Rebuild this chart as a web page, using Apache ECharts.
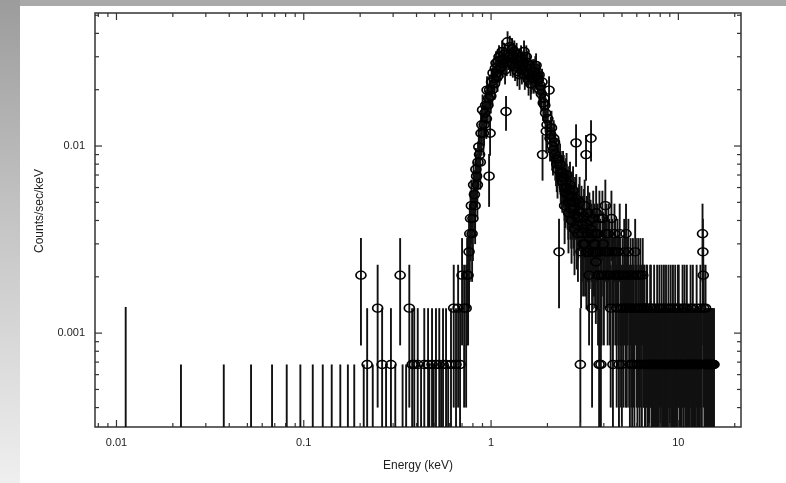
<!DOCTYPE html>
<html><head><meta charset="utf-8">
<script src="https://cdn.jsdelivr.net/npm/echarts@6/dist/echarts.min.js"></script>
<style>
html,body{margin:0;padding:0;width:786px;height:483px;overflow:hidden;background:#fff;}
#topband{position:absolute;left:0;top:0;width:786px;height:6px;background:#a9a9a9;}
#leftband{position:absolute;left:0;top:0;width:20px;height:483px;background:linear-gradient(to bottom,#9c9c9c 0%,#c4c4c4 45%,#efefef 100%);}
#chart{position:absolute;left:0;top:0;width:786px;height:483px;}
</style></head><body>
<div id="topband"></div><div id="leftband"></div><div id="chart"></div>
<script>
// ---- axis ranges ----
const xRange = [0.00768, 21.6];
const yRange = [0.000315, 0.0514];

// ---- tick values ----
const xMajorTicks = [0.01, 0.1, 1, 10];
const xMinorTicks = [0.008, 0.009, 0.02, 0.03, 0.04, 0.05, 0.06, 0.07, 0.08, 0.09,
  0.2, 0.3, 0.4, 0.5, 0.6, 0.7, 0.8, 0.9, 2, 3, 4, 5, 6, 7, 8, 9, 20];
const yMajorTicks = [0.001, 0.01];
const yMinorTicks = [0.0004, 0.0005, 0.0006, 0.0007, 0.0008, 0.0009,
  0.002, 0.003, 0.004, 0.005, 0.006, 0.007, 0.008, 0.009, 0.02, 0.03, 0.04, 0.05];

// ---- zero-count bins: upper-limit bars only ----
const upperLimitEnergy = [0.0112, 0.0221, 0.0374, 0.0523, 0.0677, 0.0811, 0.0959, 0.1117, 0.1263, 0.141,
  0.1567, 0.172, 0.186, 0.209, 0.2335, 0.275, 0.308, 0.337, 0.352, 0.423, 0.468, 0.494, 0.541, 0.590];
const upperLimitRate = [0.00138, 0.00068, 0.00068, 0.00068, 0.00068, 0.00068, 0.00068, 0.00068, 0.00068, 0.00068,
  0.00068, 0.00068, 0.00068, 0.00068, 0.00068, 0.00068, 0.00068, 0.00068, 0.00068, 0.00068, 0.00068, 0.00068, 0.00068, 0.00068];

// ---- soft band (0.2 - 0.75 keV) ----
const softEnergy = [0.202, 0.218, 0.248, 0.262, 0.292, 0.327, 0.366, 0.379, 0.389, 0.406,
  0.440, 0.461, 0.484, 0.508, 0.529, 0.554, 0.575, 0.611, 0.632, 0.650,
  0.667, 0.683, 0.700, 0.718, 0.736];
const softRate = [0.00204, 0.00068, 0.00136, 0.00068, 0.00068, 0.00204, 0.00136, 0.00068, 0.00068, 0.00068,
  0.00068, 0.00068, 0.00068, 0.00068, 0.00068, 0.00068, 0.00068, 0.00068, 0.00136, 0.00068,
  0.00136, 0.00068, 0.00204, 0.00136, 0.00136];
const softErr = [0.00118, 0.00068, 0.00096, 0.00068, 0.00068, 0.00118, 0.00096, 0.00068, 0.00068, 0.00068,
  0.00068, 0.00068, 0.00068, 0.00068, 0.00068, 0.00068, 0.00068, 0.00068, 0.00096, 0.00068,
  0.00096, 0.00068, 0.00118, 0.00096, 0.00096];

// ---- peak (0.75 - 3.8 keV) ----
const peakEnergy = [0.745, 0.763, 0.777, 0.792, 0.807, 0.822, 0.837, 0.852, 0.868, 0.884,
  0.901, 0.918, 0.935, 0.952, 0.970, 0.976, 0.988, 1.006, 1.025, 1.044,
  1.063, 1.083, 1.103, 1.124, 1.145, 1.166, 1.188, 1.202, 1.225, 1.248,
  1.271, 1.295, 1.319, 1.344, 1.369, 1.394, 1.420, 1.446, 1.473, 1.500,
  1.528, 1.557, 1.586, 1.615, 1.645, 1.676, 1.707, 1.739, 1.771, 1.804,
  1.837, 1.871, 1.883, 1.918, 1.954, 1.990, 2.040, 2.064, 2.102, 2.141,
  2.181, 2.223, 2.264, 2.306, 2.335, 2.378, 2.423, 2.468, 2.514, 2.561,
  2.608, 2.657, 2.706, 2.756, 2.808, 2.843, 2.896, 2.950, 2.997, 3.023,
  3.079, 3.136, 3.214, 3.274, 3.336, 3.398, 3.418, 3.462, 3.527, 3.593,
  3.660, 3.728, 3.775];
const peakRate = [0.00204, 0.00272, 0.0041, 0.0034, 0.0062, 0.0048, 0.0069, 0.0082, 0.0090, 0.0117,
  0.0156, 0.0130, 0.0165, 0.0199, 0.0180, 0.0069, 0.0117, 0.0220, 0.0246, 0.0215,
  0.0278, 0.0235, 0.0300, 0.0265, 0.0320, 0.0290, 0.0255, 0.0153, 0.0361, 0.0310,
  0.0280, 0.0330, 0.0300, 0.0265, 0.0310, 0.0285, 0.0240, 0.0300, 0.0270, 0.0320,
  0.0250, 0.0280, 0.0225, 0.0260, 0.0230, 0.0250, 0.0250, 0.0270, 0.0230, 0.0240,
  0.0210, 0.0220, 0.0090, 0.0180, 0.0150, 0.0130, 0.0199, 0.0110, 0.0125, 0.0095,
  0.0105, 0.0085, 0.0075, 0.00272, 0.0080, 0.0068, 0.0072, 0.0060, 0.0065, 0.0055,
  0.0058, 0.0050, 0.0054, 0.0046, 0.0050, 0.0104, 0.0041, 0.0045, 0.00068, 0.00272,
  0.0038, 0.0042, 0.0090, 0.0034, 0.00204, 0.0036, 0.0110, 0.00136, 0.0030, 0.00272,
  0.0034, 0.00204, 0.00068];
const peakErr = [0.00118, 0.00136, 0.00167, 0.00152, 0.00205, 0.00181, 0.00217, 0.00236, 0.00247, 0.00282,
  0.00326, 0.00297, 0.00335, 0.00368, 0.0035, 0.00217, 0.00282, 0.00387, 0.00409, 0.00382,
  0.00435, 0.0040, 0.00452, 0.00425, 0.00466, 0.00444, 0.00416, 0.00323, 0.00495, 0.00459,
  0.00436, 0.00474, 0.00452, 0.00425, 0.00459, 0.0044, 0.00404, 0.00452, 0.00428, 0.00466,
  0.00412, 0.00436, 0.00391, 0.0042, 0.00395, 0.00412, 0.00412, 0.00428, 0.00395, 0.00404,
  0.00378, 0.00387, 0.00247, 0.0035, 0.00319, 0.00297, 0.00368, 0.00273, 0.00292, 0.00254,
  0.00267, 0.0024, 0.00226, 0.00136, 0.00233, 0.00215, 0.00221, 0.00202, 0.0021, 0.00193,
  0.00199, 0.00184, 0.00192, 0.00177, 0.00184, 0.00266, 0.00167, 0.00175, 0.00068, 0.00136,
  0.00161, 0.00169, 0.00247, 0.00152, 0.00118, 0.00156, 0.00273, 0.00096, 0.00143, 0.00136,
  0.00152, 0.00118, 0.00068];

// ---- peak, interleaved bins [energy, rate, error] ----
const peakExtra = [
  [0.754, 0.00204, 0.00118], [0.770, 0.0034, 0.00152], [0.785, 0.0048, 0.00181], [0.800, 0.0041, 0.00167],
  [0.815, 0.0055, 0.00193], [0.830, 0.0075, 0.00226], [0.845, 0.0062, 0.00205], [0.860, 0.0099, 0.00259],
  [0.876, 0.0082, 0.00236], [0.893, 0.0130, 0.00297], [0.910, 0.0117, 0.00282], [0.927, 0.0150, 0.00319],
  [0.944, 0.0140, 0.00309], [0.961, 0.0165, 0.00335], [0.982, 0.0199, 0.00368], [0.997, 0.0185, 0.00355],
  [1.016, 0.0200, 0.00369], [1.035, 0.0230, 0.00395], [1.054, 0.0260, 0.0042], [1.073, 0.0246, 0.00409],
  [1.093, 0.0285, 0.0044], [1.113, 0.0260, 0.0042], [1.135, 0.0290, 0.00444], [1.156, 0.0275, 0.00432],
  [1.177, 0.0310, 0.00459], [1.213, 0.0280, 0.00436], [1.236, 0.0300, 0.00452], [1.260, 0.0340, 0.00481],
  [1.283, 0.0295, 0.00448], [1.307, 0.0275, 0.00432], [1.331, 0.0320, 0.00466], [1.356, 0.0290, 0.00444],
  [1.382, 0.0250, 0.00412], [1.407, 0.0275, 0.00432], [1.433, 0.0290, 0.00444], [1.460, 0.0255, 0.00416],
  [1.486, 0.0280, 0.00436], [1.514, 0.0240, 0.00404], [1.542, 0.0300, 0.00452], [1.571, 0.0245, 0.00408],
  [1.600, 0.0270, 0.00428], [1.630, 0.0215, 0.00382], [1.660, 0.0240, 0.00404], [1.691, 0.0230, 0.00395],
  [1.723, 0.0260, 0.0042], [1.755, 0.0240, 0.00404], [1.787, 0.0225, 0.00391], [1.820, 0.0200, 0.00369],
  [1.854, 0.0190, 0.0036], [1.900, 0.0170, 0.0034], [1.936, 0.0165, 0.00335], [1.972, 0.0120, 0.00286],
  [2.010, 0.0140, 0.00309], [2.083, 0.0115, 0.0028], [2.121, 0.0100, 0.00261], [2.161, 0.0110, 0.00273],
  [2.202, 0.0090, 0.00247], [2.243, 0.0080, 0.00233], [2.285, 0.0085, 0.0024], [2.356, 0.0072, 0.00221],
  [2.400, 0.0065, 0.0021], [2.445, 0.0068, 0.00215], [2.491, 0.0056, 0.00195], [2.537, 0.0060, 0.00202],
  [2.584, 0.0050, 0.00184], [2.632, 0.0054, 0.00192], [2.681, 0.0046, 0.00177], [2.731, 0.0050, 0.00184],
  [2.782, 0.0043, 0.00171], [2.870, 0.0038, 0.00161], [2.923, 0.0042, 0.00169], [3.050, 0.0034, 0.00152],
  [3.107, 0.0036, 0.00156], [3.175, 0.0030, 0.00143], [3.244, 0.0038, 0.00161], [3.305, 0.0027, 0.00136],
  [3.367, 0.0032, 0.00148], [3.494, 0.0027, 0.00136], [3.560, 0.0034, 0.00152], [3.626, 0.0024, 0.00128],
  [3.694, 0.0027, 0.00136], [3.752, 0.00204, 0.00118]
];

// ---- falling edge, extra bins [energy, rate, error] ----
const descentExtra = [
  [2.47, 0.0048, 0.00181], [2.53, 0.0070, 0.00218], [2.59, 0.0044, 0.00173], [2.64, 0.0062, 0.00205],
  [2.69, 0.0040, 0.00165], [2.74, 0.0058, 0.00199], [2.79, 0.0036, 0.00156], [2.85, 0.0052, 0.00188],
  [2.91, 0.0034, 0.00152], [2.97, 0.0050, 0.00184], [3.04, 0.0044, 0.00173], [3.10, 0.0030, 0.00143],
  [3.16, 0.0048, 0.00181], [3.23, 0.0027, 0.00136], [3.29, 0.0044, 0.00173], [3.35, 0.0040, 0.00165],
  [3.44, 0.0034, 0.00152], [3.51, 0.0041, 0.00167], [3.58, 0.0030, 0.00143], [3.64, 0.0044, 0.00173],
  [3.71, 0.0034, 0.00152], [3.79, 0.0041, 0.00167]
];

// ---- hard tail (3.8 - 15.5 keV) ----
const tailEnergy = [3.822, 3.894, 3.967, 4.041, 4.110, 4.193, 4.272, 4.352, 4.433, 4.516,
  4.600, 4.686, 4.774, 4.863, 4.942, 5.046, 5.140, 5.236, 5.255, 5.360,
  5.460, 5.563, 5.667, 5.772, 5.880, 5.990, 6.102, 6.216, 6.319, 6.453,
  6.565, 6.688, 6.813, 6.940, 7.070, 7.202, 7.336, 7.425, 7.565, 7.706,
  7.850, 7.997, 8.146, 8.298, 8.453, 8.592, 8.771, 8.935, 9.101, 9.271,
  9.444, 9.621, 9.800, 9.949, 10.15, 10.34, 10.53, 10.79, 11.00, 11.20,
  11.41, 11.62, 11.84, 12.06, 12.29, 12.52, 12.75, 12.99, 13.23, 13.46,
  13.52, 13.58, 13.64, 13.90, 14.05, 14.30, 14.57, 14.84, 15.12, 15.50];
const tailRate = [0.00272, 0.00204, 0.0030, 0.00272, 0.0034, 0.00204, 0.00272, 0.00136, 0.00272, 0.00204,
  0.00272, 0.00136, 0.00204, 0.0034, 0.00136, 0.00204, 0.00272, 0.00136, 0.0034, 0.00204,
  0.00136, 0.00204, 0.00068, 0.00136, 0.00272, 0.00136, 0.00204, 0.00068, 0.00136, 0.00204,
  0.00136, 0.00068, 0.00136, 0.00068, 0.00136, 0.00068, 0.00068, 0.00136, 0.00068, 0.00136,
  0.00068, 0.00068, 0.00136, 0.00068, 0.00068, 0.00136, 0.00068, 0.00068, 0.00136, 0.00068,
  0.00068, 0.00136, 0.00068, 0.00136, 0.00068, 0.00068, 0.00136, 0.00136, 0.00068, 0.00068,
  0.00068, 0.00136, 0.00068, 0.00068, 0.00068, 0.00136, 0.00068, 0.00068, 0.00068, 0.0034,
  0.00272, 0.00204, 0.00136, 0.00068, 0.00068, 0.00068, 0.00068, 0.00068, 0.00068, 0.00068];
const tailErr = [0.00136, 0.00118, 0.00143, 0.00136, 0.00152, 0.00118, 0.00136, 0.00096, 0.00136, 0.00118,
  0.00136, 0.00096, 0.00118, 0.00152, 0.00096, 0.00118, 0.00136, 0.00096, 0.00152, 0.00118,
  0.00096, 0.00118, 0.00068, 0.00096, 0.00136, 0.00096, 0.00118, 0.00068, 0.00096, 0.00118,
  0.00096, 0.00068, 0.00096, 0.00068, 0.00096, 0.00068, 0.00068, 0.00096, 0.00068, 0.00096,
  0.00068, 0.00068, 0.00096, 0.00068, 0.00068, 0.00096, 0.00068, 0.00068, 0.00096, 0.00068,
  0.00068, 0.00096, 0.00068, 0.00096, 0.00068, 0.00068, 0.00096, 0.00096, 0.00068, 0.00068,
  0.00068, 0.00096, 0.00068, 0.00068, 0.00068, 0.00096, 0.00068, 0.00068, 0.00068, 0.00152,
  0.00136, 0.00118, 0.00096, 0.00068, 0.00068, 0.00068, 0.00068, 0.00068, 0.00068, 0.00068];

// ---- tail, interleaved bins [energy, rate, error] ----
const tailExtra = [
  [3.858, 0.00068, 0.00068], [3.930, 0.0041, 0.00167], [4.004, 0.00204, 0.00118], [4.075, 0.0048, 0.00181],
  [4.150, 0.00272, 0.00136], [4.232, 0.0034, 0.00152], [4.312, 0.00204, 0.00118], [4.392, 0.0041, 0.00167],
  [4.474, 0.00068, 0.00068], [4.558, 0.0034, 0.00152], [4.643, 0.00204, 0.00118], [4.730, 0.00272, 0.00136],
  [4.818, 0.00068, 0.00068], [4.902, 0.00204, 0.00118], [4.994, 0.00068, 0.00068], [5.093, 0.00136, 0.00096],
  [5.188, 0.00204, 0.00118], [5.308, 0.00136, 0.00096], [5.410, 0.00272, 0.00136], [5.511, 0.00068, 0.00068],
  [5.615, 0.00136, 0.00096], [5.720, 0.00204, 0.00118], [5.826, 0.00068, 0.00068], [5.935, 0.00204, 0.00118],
  [6.046, 0.00068, 0.00068], [6.159, 0.00136, 0.00096], [6.267, 0.00204, 0.00118], [6.386, 0.00068, 0.00068],
  [6.509, 0.00136, 0.00096], [6.626, 0.00068, 0.00068], [6.750, 0.00136, 0.00096], [6.876, 0.00068, 0.00068],
  [7.005, 0.00068, 0.00068], [7.136, 0.00136, 0.00096], [7.269, 0.00068, 0.00068], [7.380, 0.00068, 0.00068],
  [7.495, 0.00068, 0.00068], [7.635, 0.00068, 0.00068], [7.778, 0.00068, 0.00068], [7.923, 0.00136, 0.00096],
  [8.071, 0.00068, 0.00068], [8.222, 0.00068, 0.00068], [8.375, 0.00136, 0.00096], [8.522, 0.00068, 0.00068],
  [8.681, 0.00068, 0.00068], [8.853, 0.00136, 0.00096], [9.018, 0.00068, 0.00068], [9.186, 0.00068, 0.00068],
  [9.357, 0.00136, 0.00096], [9.532, 0.00068, 0.00068], [9.710, 0.00068, 0.00068], [9.874, 0.00068, 0.00068],
  [10.05, 0.00136, 0.00096], [10.24, 0.00068, 0.00068], [10.43, 0.00068, 0.00068], [10.66, 0.00068, 0.00068],
  [10.89, 0.00068, 0.00068], [11.10, 0.00136, 0.00096], [11.30, 0.00068, 0.00068], [11.51, 0.00068, 0.00068],
  [11.73, 0.00068, 0.00068], [11.95, 0.00136, 0.00096], [12.17, 0.00068, 0.00068], [12.40, 0.00068, 0.00068],
  [12.63, 0.00068, 0.00068], [12.87, 0.00068, 0.00068], [13.11, 0.00136, 0.00096], [13.35, 0.00068, 0.00068],
  [13.77, 0.00068, 0.00068], [13.97, 0.00136, 0.00096], [14.17, 0.00068, 0.00068], [14.43, 0.00068, 0.00068],
  [14.70, 0.00068, 0.00068], [14.98, 0.00068, 0.00068], [15.26, 0.00068, 0.00068], [15.38, 0.00068, 0.00068]
];

const xTitle = 'Energy (keV)';
const yTitle = 'Counts/sec/keV';

// ---- build series data ----
const rows = [];
softEnergy.forEach((e, i) => rows.push([e, softRate[i], softErr[i]]));
peakEnergy.forEach((e, i) => rows.push([e, peakRate[i], peakErr[i]]));
tailEnergy.forEach((e, i) => rows.push([e, tailRate[i], tailErr[i]]));
peakExtra.forEach(r => rows.push(r));
descentExtra.forEach(r => rows.push(r));
tailExtra.forEach(r => rows.push(r));

const points = rows.map(r => [r[0], r[1]]);
const errBars = rows.map(r => [r[0], Math.max(r[1] - r[2], yRange[0]), Math.min(r[1] + r[2], yRange[1])]);
const ulBars = upperLimitEnergy.map((e, i) => [e, yRange[0], upperLimitRate[i]]);

const xTickData = xMajorTicks.map(v => [v, yRange[0], 1]).concat(xMinorTicks.map(v => [v, yRange[0], 0]));
const yTickData = yMajorTicks.map(v => [xRange[0], v, 1]).concat(yMinorTicks.map(v => [xRange[0], v, 0]));

const FONT = '"Liberation Sans", Arial, Helvetica, sans-serif';
const INK = '#1e1e1e';

function renderBar(params, api) {
  const p1 = api.coord([api.value(0), api.value(1)]);
  const p2 = api.coord([api.value(0), api.value(2)]);
  return { type: 'line', shape: { x1: p1[0], y1: p1[1], x2: p2[0], y2: p2[1] },
    style: { stroke: '#111', lineWidth: 1.9 } };
}
function renderXTick(params, api) {
  const cs = params.coordSys;
  const px = api.coord([api.value(0), api.value(1)])[0];
  const len = api.value(2) ? 7 : 4;
  const b = cs.y + cs.height, t = cs.y;
  return { type: 'group', children: [
    { type: 'line', shape: { x1: px, y1: b, x2: px, y2: b - len }, style: { stroke: '#333', lineWidth: 1.2 } },
    { type: 'line', shape: { x1: px, y1: t, x2: px, y2: t + len }, style: { stroke: '#333', lineWidth: 1.2 } }
  ] };
}
function renderYTick(params, api) {
  const cs = params.coordSys;
  const py = api.coord([api.value(0), api.value(1)])[1];
  const len = api.value(2) ? 7 : 4;
  const l = cs.x, r = cs.x + cs.width;
  return { type: 'group', children: [
    { type: 'line', shape: { x1: l, y1: py, x2: l + len, y2: py }, style: { stroke: '#333', lineWidth: 1.2 } },
    { type: 'line', shape: { x1: r, y1: py, x2: r - len, y2: py }, style: { stroke: '#333', lineWidth: 1.2 } }
  ] };
}
function powLabel(v) {
  const l = Math.log10(v);
  if (Math.abs(l - Math.round(l)) > 1e-6) return '';
  return String(parseFloat(Math.pow(10, Math.round(l)).toPrecision(6)));
}

const chart = echarts.init(document.getElementById('chart'));
chart.setOption({
  animation: false,
  backgroundColor: 'transparent',
  grid: { left: 95, top: 13, width: 646, height: 414, show: true, borderColor: '#333', borderWidth: 1.5, backgroundColor: 'transparent' },
  xAxis: { type: 'log', logBase: 10, min: xRange[0], max: xRange[1],
    axisLine: { show: false }, axisTick: { show: false }, splitLine: { show: false }, minorTick: { show: false },
    axisLabel: { formatter: powLabel, margin: 10, fontSize: 11, color: INK, fontFamily: FONT } },
  yAxis: { type: 'log', logBase: 10, min: yRange[0], max: yRange[1],
    axisLine: { show: false }, axisTick: { show: false }, splitLine: { show: false }, minorTick: { show: false },
    axisLabel: { formatter: powLabel, margin: 10, fontSize: 11, color: INK, fontFamily: FONT } },
  graphic: [
    { type: 'text', x: 418, y: 466, style: { text: xTitle, textAlign: 'center', textVerticalAlign: 'middle', fontSize: 12, fill: INK, fontFamily: FONT } },
    { type: 'text', x: 40, y: 211, rotation: Math.PI / 2, style: { text: yTitle, textAlign: 'center', textVerticalAlign: 'middle', fontSize: 12, fill: INK, fontFamily: FONT } }
  ],
  series: [
    { type: 'custom', name: 'ticksX', data: xTickData, renderItem: renderXTick, encode: { x: 0, y: 1 }, silent: true, z: 5 },
    { type: 'custom', name: 'ticksY', data: yTickData, renderItem: renderYTick, encode: { x: 0, y: 1 }, silent: true, z: 5 },
    { type: 'custom', name: 'upper limits', data: ulBars, renderItem: renderBar, encode: { x: 0, y: [1, 2] }, silent: true, z: 2 },
    { type: 'custom', name: 'errors', data: errBars, renderItem: renderBar, encode: { x: 0, y: [1, 2] }, silent: true, z: 2 },
    { type: 'scatter', name: 'data', data: points, symbol: 'circle', symbolSize: [10, 8], z: 3,
      itemStyle: { color: 'rgba(0,0,0,0)', borderColor: '#000', borderWidth: 1.5, opacity: 1 } }
  ]
});
</script></body></html>
